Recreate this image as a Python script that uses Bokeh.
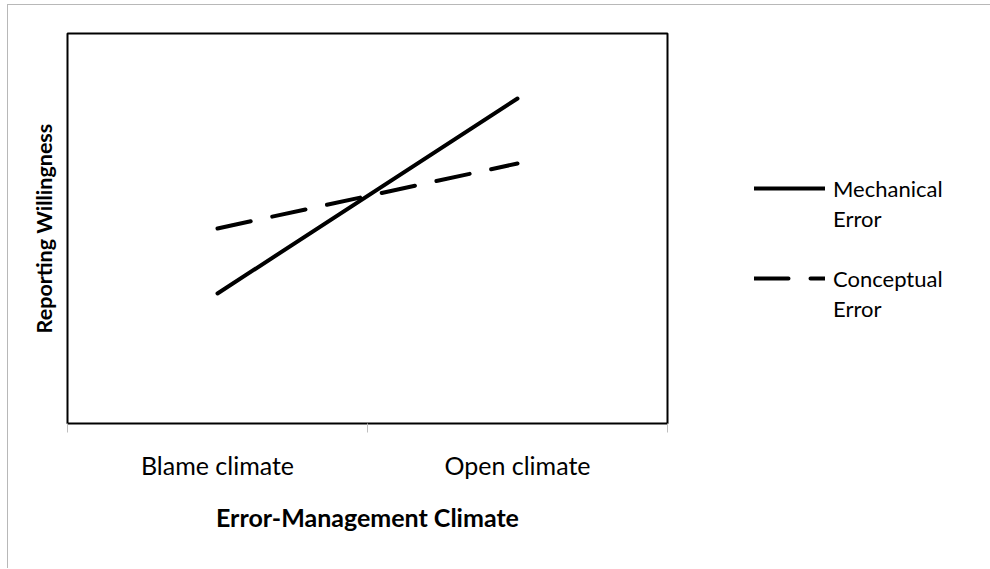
from bokeh.plotting import figure
from bokeh.models import Range1d, FixedTicker, Legend, LegendItem
from bokeh.embed import file_html
from bokeh.resources import INLINE

categories = ["Blame climate", "Open climate"]
mechanical = [2, 5]
conceptual = [3, 4]
legend_lines = [["Mechanical", "Error"], ["Conceptual", "Error"]]
x_title = "Error-Management Climate"
y_title = "Reporting Willingness"

FONT = "Lato"

x = [i + 0.5 for i in range(len(categories))]

p = figure(frame_width=600, frame_height=390, output_backend="svg", toolbar_location=None,
           title=None,
           x_range=Range1d(0, len(categories)), y_range=Range1d(0, 6),
           min_border_left=59, min_border_right=0, min_border_top=28,
           min_border_bottom=145)
p.styles = {"margin-left": "7px", "margin-top": "4px",
            "border-top": "1px solid #b8b8b8", "border-left": "1px solid #b8b8b8"}

p.outline_line_color = "black"
p.outline_line_width = 2
p.xgrid.visible = False
p.ygrid.visible = False
p.background_fill_color = "white"
p.border_fill_color = "white"

# x axis
xa = p.xaxis[0]
xa.ticker = FixedTicker(ticks=x, minor_ticks=list(range(len(categories) + 1)))
xa.major_label_overrides = {xv: c for xv, c in zip(x, categories)}
xa.major_tick_line_color = None
xa.major_tick_out = 0
xa.major_tick_in = 0
xa.minor_tick_line_color = "#bfbfbf"
xa.minor_tick_out = 9
xa.minor_tick_in = 0
xa.axis_line_color = None
xa.major_label_text_font = FONT
xa.major_label_text_font_size = "25px"
xa.major_label_text_color = "black"
xa.major_label_standoff = 17
xa.axis_label = x_title
xa.axis_label_text_font = FONT
xa.axis_label_text_font_style = "bold"
xa.axis_label_text_font_size = "25px"
xa.axis_label_text_color = "black"
xa.axis_label_standoff = 19

# y axis
ya = p.yaxis[0]
ya.ticker = FixedTicker(ticks=[])
ya.major_tick_out = 0
ya.major_tick_in = 0
ya.minor_tick_out = 0
ya.minor_tick_in = 0
ya.major_tick_line_color = None
ya.minor_tick_line_color = None
ya.major_label_text_font_size = "0px"
ya.axis_line_color = None
ya.axis_label = y_title
ya.axis_label_text_font = FONT
ya.axis_label_text_font_style = "bold"
ya.axis_label_text_font_size = "21.5px"
ya.axis_label_text_color = "black"
ya.axis_label_standoff = 11

r_mech = p.line(x, mechanical, line_width=4, line_color="black", line_cap="round")
r_conc = p.line(x, conceptual, line_width=4, line_color="black", line_cap="round",
                line_dash="34 22")
r_blank = p.line([], [], line_alpha=0)

items = [
    LegendItem(label=legend_lines[0][0], renderers=[r_mech]),
    LegendItem(label=legend_lines[0][1], renderers=[r_blank]),
    LegendItem(label=" ", renderers=[r_blank]),
    LegendItem(label=legend_lines[1][0], renderers=[r_conc]),
    LegendItem(label=legend_lines[1][1], renderers=[r_blank]),
]
legend = Legend(items=items, location=(87, 100))
legend.border_line_color = None
legend.background_fill_alpha = 0
legend.padding = 0
legend.margin = 0
legend.spacing = 0
legend.label_height = 30
legend.glyph_height = 30
legend.glyph_width = 71
legend.label_standoff = 8
legend.label_text_font = FONT
legend.label_text_font_size = "22px"
legend.label_text_color = "black"
legend.label_text_baseline = "middle"
p.add_layout(legend, "right")

open("out.html", "w").write(file_html(p, INLINE))
